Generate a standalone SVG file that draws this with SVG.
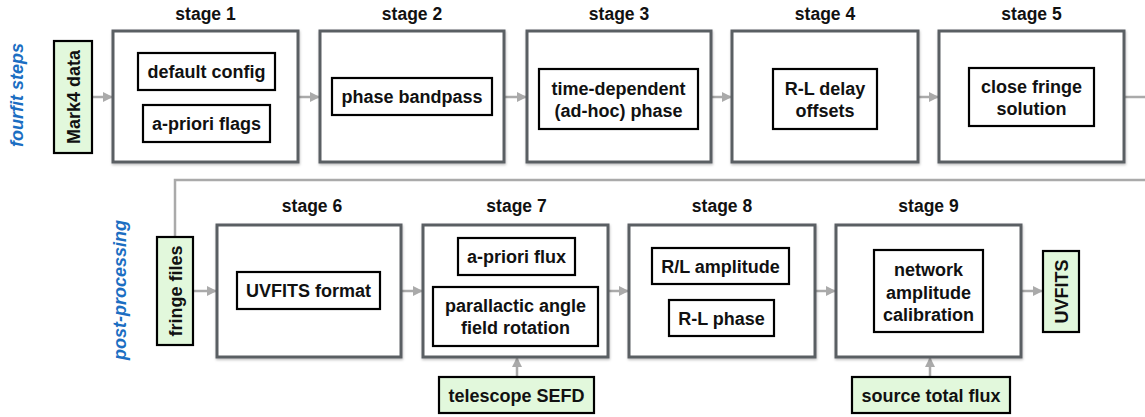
<svg xmlns="http://www.w3.org/2000/svg" width="1145" height="417" viewBox="0 0 1145 417">
<style>
text{font-family:"Liberation Sans",Arial,sans-serif;font-weight:bold;fill:#111;text-anchor:middle}
.lbl{font-size:17.5px}
.t{font-size:18px}
.side{font-size:18px;font-style:italic;fill:#1b6ec2}
.stage{fill:#fff;stroke:#5a5e63;stroke-width:3}
.inner{fill:#fff;stroke:#000;stroke-width:2.2}
.data{fill:#e2f8dc;stroke:#000;stroke-width:2.2}
.conn{fill:none;stroke:#aaa;stroke-width:2.5}
</style>
<defs>
<marker id="ah" viewBox="0 0 10 10" refX="10" refY="5" markerWidth="4" markerHeight="4" orient="auto" markerUnits="strokeWidth">
<path d="M0,0 L10,5 L0,10 Z" fill="#aaa"/>
</marker>
<filter id="sh" x="-5%" y="-5%" width="110%" height="110%">
<feDropShadow dx="0.5" dy="1.5" stdDeviation="1.2" flood-color="#000" flood-opacity="0.25"/>
</filter>
</defs>
<rect width="1145" height="417" fill="#fff"/>

<text class="side" transform="translate(23,95) rotate(-90)">fourfit steps</text>
<text class="side" transform="translate(126,290) rotate(-90)">post-processing</text>

<g id="connectors">
<path class="conn" d="M92,97 H113" marker-end="url(#ah)"/>
<path class="conn" d="M298,97 H320" marker-end="url(#ah)"/>
<path class="conn" d="M504,97 H527" marker-end="url(#ah)"/>
<path class="conn" d="M711,97 H732" marker-end="url(#ah)"/>
<path class="conn" d="M918,97 H939" marker-end="url(#ah)"/>
<path class="conn" d="M1124,97 H1160 V180 H175 V237"/>
<path class="conn" d="M193,291 H217" marker-end="url(#ah)"/>
<path class="conn" d="M401,291 H423" marker-end="url(#ah)"/>
<path class="conn" d="M608,291 H629" marker-end="url(#ah)"/>
<path class="conn" d="M815,291 H836" marker-end="url(#ah)"/>
<path class="conn" d="M1021,291 H1043" marker-end="url(#ah)"/>
<path class="conn" d="M517,377 V357" marker-end="url(#ah)"/>
<path class="conn" d="M930,377 V357" marker-end="url(#ah)"/>
</g>

<g id="mark4">
<rect class="data" x="54" y="41" width="38" height="112"/>
<text class="t" transform="translate(79.5,97) rotate(-90)">Mark4 data</text>
</g>

<g id="stage1">
<text class="lbl" x="205.5" y="20">stage 1</text>
<rect class="stage" x="113" y="31" width="185" height="131" filter="url(#sh)"/>
<rect class="inner" x="138" y="53" width="137" height="37"/>
<text class="t" x="206.5" y="78">default config</text>
<rect class="inner" x="143" y="105" width="127" height="37"/>
<text class="t" x="206.5" y="130">a-priori flags</text>
</g>

<g id="stage2">
<text class="lbl" x="412" y="20">stage 2</text>
<rect class="stage" x="320" y="31" width="184" height="131" filter="url(#sh)"/>
<rect class="inner" x="332" y="78" width="160" height="37"/>
<text class="t" x="412" y="103">phase bandpass</text>
</g>

<g id="stage3">
<text class="lbl" x="619" y="20">stage 3</text>
<rect class="stage" x="527" y="31" width="184" height="131" filter="url(#sh)"/>
<rect class="inner" x="539" y="69" width="159" height="60"/>
<text class="t" x="618.5" y="95">time-dependent</text>
<text class="t" x="618.5" y="117">(ad-hoc) phase</text>
</g>

<g id="stage4">
<text class="lbl" x="825" y="20">stage 4</text>
<rect class="stage" x="732" y="31" width="186" height="131" filter="url(#sh)"/>
<rect class="inner" x="773" y="69" width="104" height="60"/>
<text class="t" x="825" y="95">R-L delay</text>
<text class="t" x="825" y="117">offsets</text>
</g>

<g id="stage5">
<text class="lbl" x="1031.5" y="20">stage 5</text>
<rect class="stage" x="939" y="31" width="185" height="131" filter="url(#sh)"/>
<rect class="inner" x="969" y="68" width="125" height="58"/>
<text class="t" x="1031.5" y="93">close fringe</text>
<text class="t" x="1031.5" y="115">solution</text>
</g>

<g id="fringe">
<rect class="data" x="157" y="237" width="36" height="108"/>
<text class="t" transform="translate(181.5,291) rotate(-90)">fringe files</text>
</g>

<g id="stage6">
<text class="lbl" x="312" y="212">stage 6</text>
<rect class="stage" x="217" y="225" width="184" height="132" filter="url(#sh)"/>
<rect class="inner" x="237" y="272" width="143" height="37"/>
<text class="t" x="308.5" y="297">UVFITS format</text>
</g>

<g id="stage7">
<text class="lbl" x="516.5" y="212">stage 7</text>
<rect class="stage" x="423" y="225" width="185" height="132" filter="url(#sh)"/>
<rect class="inner" x="458" y="238" width="117" height="37"/>
<text class="t" x="516.5" y="263">a-priori flux</text>
<rect class="inner" x="433" y="287" width="165" height="59"/>
<text class="t" x="515.5" y="312">parallactic angle</text>
<text class="t" x="515.5" y="334">field rotation</text>
</g>

<g id="stage8">
<text class="lbl" x="722" y="212">stage 8</text>
<rect class="stage" x="629" y="225" width="186" height="132" filter="url(#sh)"/>
<rect class="inner" x="652" y="248" width="137" height="36"/>
<text class="t" x="720.5" y="273">R/L amplitude</text>
<rect class="inner" x="669" y="300" width="105" height="36"/>
<text class="t" x="721.5" y="325">R-L phase</text>
</g>

<g id="stage9">
<text class="lbl" x="928.5" y="212">stage 9</text>
<rect class="stage" x="836" y="225" width="185" height="132" filter="url(#sh)"/>
<rect class="inner" x="874" y="250" width="109" height="82"/>
<text class="t" x="928.5" y="276">network</text>
<text class="t" x="928.5" y="299">amplitude</text>
<text class="t" x="928.5" y="321">calibration</text>
</g>

<g id="uvfits">
<rect class="data" x="1043" y="251" width="36" height="81"/>
<text class="t" transform="translate(1067.5,291.5) rotate(-90)">UVFITS</text>
</g>

<g id="sefd">
<rect class="data" x="439" y="377" width="155" height="36"/>
<text class="t" x="516.5" y="401.5">telescope SEFD</text>
</g>

<g id="totalflux">
<rect class="data" x="852" y="377" width="158" height="36"/>
<text class="t" x="931" y="401.5">source total flux</text>
</g>
</svg>
